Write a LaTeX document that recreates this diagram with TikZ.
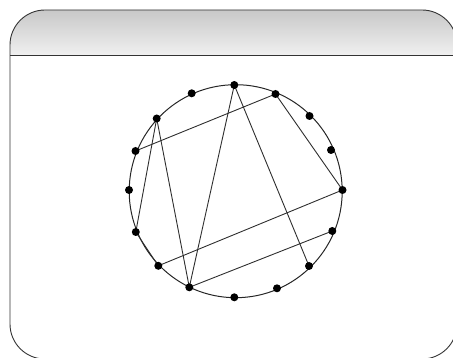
\documentclass[tikz,border=0pt]{standalone}
\begin{document}
\begin{tikzpicture}[x=1pt,y=-1pt,
  framestyle/.style={draw=black!80,line width=0.9pt},
  chord/.style={draw=black!82,line width=0.9pt},
  ringstyle/.style={draw=black!85,line width=1pt},
  dotstyle/.style={circle,fill=black,inner sep=0pt,minimum size=8pt}]
\useasboundingbox (0,0) rectangle (453,358);
\begin{scope}
  \clip (0,0) rectangle (453,358);
  \begin{scope}
    \clip[rounded corners=35pt] (10,10) rectangle (457,359);
    \shade[top color=black!25,bottom color=black!6] (0,0) rectangle (460,55);
  \end{scope}
  \draw[framestyle,rounded corners=35pt] (10,10) rectangle (457,359);
  \draw[framestyle] (10,55) -- (457,55);
\end{scope}
\coordinate (c) at (235.7,191.2);
\node[ringstyle,circle,inner sep=0pt,minimum size=213pt] (ring) at (c) {};
\foreach \k/\x/\y in {0/342.5/190,1/331/150,2/309.5/116,3/275.5/94,
  4/234.3/85,5/191.7/93.3,6/156.7/118.5,7/135.5/151,8/129/190,
  9/135.8/232,10/158.3/265.8,11/189.3/287.3,12/234.3/297.3,
  13/277/288.3,14/309/266,15/332.3/231}{
  \coordinate (p\k) at (\x,\y);
}
\foreach \a/\b in {6/9,6/11,4/11,4/14,3/7,3/0,0/10,15/11,9/10}{
  \draw[chord] (p\a) -- (p\b);
}
\foreach \k in {0,...,15}{
  \node[dotstyle] (d\k) at (p\k) {};
}
\end{tikzpicture}
\end{document}
